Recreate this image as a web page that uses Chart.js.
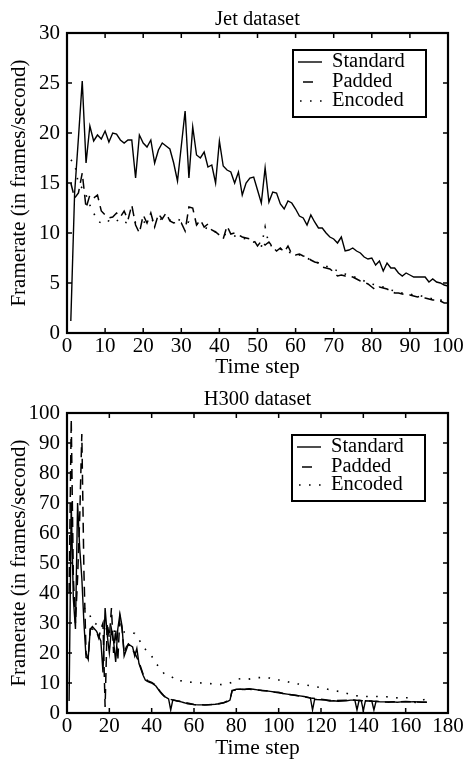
<!DOCTYPE html>
<html><head><meta charset="utf-8">
<script src="https://cdn.jsdelivr.net/npm/chart.js@4/dist/chart.umd.min.js"></script>
<style>
html,body{margin:0;padding:0;background:#fff;}
#wrap{position:relative;width:469px;height:761px;overflow:hidden;}
canvas{position:absolute;left:0;}
</style></head><body>
<div id="wrap">
<canvas id="c1" width="469" height="380" style="top:0"></canvas>
<canvas id="c2" width="469" height="381" style="top:380px"></canvas>
</div>
<script>
// ---------- Data ----------
const seriesNames = ['Standard', 'Padded', 'Encoded'];

// Jet dataset: time steps 1..100
const jetStandard = [1.2,14.0,19.5,25.2,17.0,20.7,19.2,19.8,19.4,20.2,
 19.1,20.0,19.9,19.3,19.0,19.3,19.3,15.5,19.8,19.0,
 18.6,19.3,17.0,18.3,19.0,18.7,18.4,17.0,15.2,18.7,
 22.2,15.5,20.6,17.8,17.5,18.1,16.6,16.8,15.0,19.2,
 16.7,16.3,16.1,15.0,16.1,13.8,15.0,15.5,15.6,14.3,
 13.0,16.5,13.1,14.1,14.0,12.9,12.4,13.2,13.0,12.4,
 11.7,11.5,10.8,11.8,11.1,10.5,10.5,10.0,9.6,9.4,
 9.0,9.6,8.2,8.3,8.5,8.2,8.0,7.6,7.4,7.5,
 6.8,7.2,6.2,7.0,6.5,6.5,6.0,5.7,6.0,5.8,
 5.6,5.6,5.6,5.6,5.1,5.4,5.1,5.0,4.8,4.7];
const jetPadded = [15.0,13.5,14.0,16.0,12.5,13.8,13.5,13.8,12.2,11.8,
 11.5,11.6,12.0,11.6,12.2,11.3,12.8,10.8,10.0,11.8,
 11.0,12.0,10.6,11.9,11.4,12.0,11.2,11.0,11.1,11.0,
 10.2,12.6,12.5,10.8,11.3,10.6,10.9,10.3,10.1,9.8,
 9.4,10.7,9.9,10.0,9.8,9.6,9.5,9.4,9.3,8.7,
 9.2,8.8,9.1,8.6,8.2,8.5,8.1,8.7,7.9,7.8,
 7.9,7.7,7.6,7.3,7.1,7.0,6.6,6.5,6.4,6.1,
 5.7,5.8,5.7,5.7,5.6,5.4,5.2,5.1,4.9,4.6,
 4.3,4.6,4.5,4.4,4.2,4.0,4.0,3.9,3.8,3.8,
 3.7,3.6,3.7,3.5,3.4,3.3,3.3,3.2,3.0,3.0];
const jetEncoded = [17.3,17.0,14.9,14.5,13.8,12.8,12.0,11.2,11.0,11.3,
 11.2,11.0,11.2,11.4,11.1,11.0,10.9,11.1,11.2,11.0,
 11.3,11.1,11.4,11.2,11.5,11.3,11.3,11.2,11.4,11.2,
 11.0,11.1,10.8,10.9,10.7,10.6,10.4,10.3,10.1,10.0,
 9.9,9.8,9.8,9.7,9.6,9.5,9.4,9.3,9.1,8.9,
 8.6,10.6,8.8,8.7,8.6,8.4,8.3,8.1,8.0,7.9,
 7.8,7.6,7.5,7.3,7.2,7.0,6.9,6.7,6.5,6.4,
 6.2,6.1,5.9,5.8,5.7,5.5,5.4,5.2,5.0,4.9,
 4.8,4.7,4.6,4.5,4.3,4.2,4.1,4.0,4.0,3.9,
 3.8,3.8,3.7,3.6,3.5,3.4,3.3,3.3,3.2,3.1];
const jetSteps = jetStandard.map((_, i) => i + 1);

// H300 dataset
const h300StdSteps = [1,2,3,4,5,6,7,8,9,10,11,12,13,14,15,16,17,18,19,20,
 21,22,23,24,25,26,27,28,29,30,31,32,33,34,35,36,37,38,39,40,
 41,42,43,44,45,46,47,48,49,50,51,52,53,54,55,56,57,58,59,60,
 62,64,66,68,70,72,74,76,77,78,79,80,82,84,86,88,90,92,94,96,98,100,
 102,104,106,108,110,112,114,115,116,117,118,120,122,124,126,128,130,132,134,136,137,138,139,140,141,
 143,144,145,146,148,150,152,154,156,158,160,162,164,166,168,170];
const h300StdFps = [4,70,38,28,70,55,45,30,18.5,18.2,28,28.8,28,27.2,25.6,24,13.5,35,26,20,
 28,24,17,28,33,29,19,21,23,22.5,22,19,21.5,16.5,14.5,12.5,11,10.5,10.2,10,
 9.5,9.0,8.0,7.0,6.2,5.5,5.1,4.7,1.0,4.4,4.2,4.0,3.9,3.7,3.5,3.3,3.1,3.0,2.9,2.8,
 2.7,2.7,2.7,2.8,2.9,3.1,3.4,3.9,4.3,7.4,7.7,7.9,8.0,7.8,8.1,7.9,7.7,7.5,7.4,7.2,7.0,6.9,
 6.5,6.3,6.1,5.9,5.7,5.5,5.2,5.0,1.0,4.6,4.5,4.4,4.3,4.0,4.1,3.9,4.0,4.1,4.3,4.3,1.0,4.2,4.1,0.8,4.1,
 4.0,4.0,1.0,3.9,3.7,3.7,3.6,3.7,3.6,3.7,3.8,3.7,3.8,3.7,3.6,3.6];

const h300PadSteps = [1,2,3,4,5,6,7,8,9,10,11,12,13,14,15,16,17,18,19,20,
 21,22,23,24,25,26,27,28,29,30,32,34,36,38,40,42,44,46,48,50,
 55,60,65,70,74,77,78,85,95,105,115,125,135,150,160,170];
const h300PadFps = [40,98,45,30,45,65,93,47,20,18,28,28,27.5,27,25,28,30,2,30,25,
 35,20,28,17.5,32,28,20,22,23,22,20,17,12.8,10.8,10.2,9.2,7.2,5.6,4.8,4.3,
 3.6,2.8,2.7,2.9,3.4,4.4,7.5,8.0,7.3,6.2,5.0,4.1,4.3,3.7,3.8,3.6];

const h300EncSteps = [8,10,12,15,18,21,24,27,30,32,34,36,38,40,42,44,46,48,50,52,
 55,58,62,66,70,74,78,81,85,90,95,98,102,107,112,116,120,125,130,135,
 140,146,151,157,162,165,170];
const h300EncFps = [35,34,30.5,29,28,27.5,27,27,27,26.5,24.5,22,20.5,19,16.5,15,13,12.5,11.8,10.6,
 10.8,10.3,10.1,9.9,9.6,9.4,10.2,11.4,11.2,11.8,11.8,11.0,11.0,9.8,9.5,8.9,8.5,7.6,7.0,5.9,
 5.5,5.5,5.4,5.0,5.1,3.2,4.9];

const jetXTicks = [0,10,20,30,40,50,60,70,80,90,100];
const jetYTicks = [0,5,10,15,20,25,30];
const h300XTicks = [0,20,40,60,80,100,120,140,160,180];
const h300YTicks = [0,10,20,30,40,50,60,70,80,90,100];

// ---------- Rendering ----------
const FONT = "'Liberation Serif', 'Times New Roman', 'DejaVu Serif', serif";
Chart.defaults.font.family = FONT;
Chart.defaults.color = '#000';

const styles = [
  { borderWidth: 1.4, borderDash: [], sample: [5, 29] },
  { borderWidth: 1.5, borderDash: [10, 6], sample: [10, 20] },
  { borderWidth: 1.6, borderDash: [1.6, 8.4], sample: [7, 29] }
];

function pts(xs, ys) { return xs.map((x, i) => ({ x: x, y: ys[i] })); }

const framePlugin = {
  id: 'frame',
  afterDraw(chart) {
    const { ctx, chartArea: a, scales } = chart;
    const L = 5;
    ctx.save();
    ctx.strokeStyle = '#000';
    ctx.lineWidth = 1.5;
    ctx.beginPath();
    scales.x.ticks.forEach(t => {
      const p = scales.x.getPixelForValue(t.value);
      ctx.moveTo(p, a.bottom); ctx.lineTo(p, a.bottom - L);
      ctx.moveTo(p, a.top); ctx.lineTo(p, a.top + L);
    });
    scales.y.ticks.forEach(t => {
      const p = scales.y.getPixelForValue(t.value);
      ctx.moveTo(a.left, p); ctx.lineTo(a.left + L, p);
      ctx.moveTo(a.right, p); ctx.lineTo(a.right - L, p);
    });
    ctx.stroke();
    ctx.lineWidth = 2.2;
    ctx.strokeRect(a.left, a.top, a.right - a.left, a.bottom - a.top);
    ctx.restore();
  }
};

const boxLegendPlugin = {
  id: 'boxLegend',
  afterDraw(chart, args, o) {
    const { ctx, chartArea: a } = chart;
    const x0 = a.right - o.right - o.width;
    const y0 = a.top + o.top;
    ctx.save();
    ctx.fillStyle = '#fff';
    ctx.fillRect(x0, y0, o.width, o.height);
    ctx.strokeStyle = '#000';
    ctx.lineWidth = 2;
    ctx.strokeRect(x0, y0, o.width, o.height);
    ctx.font = o.fontSize + 'px ' + FONT;
    ctx.textBaseline = 'middle';
    ctx.textAlign = 'left';
    ctx.fillStyle = '#000';
    chart.data.datasets.forEach((ds, i) => {
      const y = y0 + o.rows[i];
      const st = styles[i];
      ctx.beginPath();
      ctx.setLineDash(ds.borderDash || []);
      ctx.lineWidth = ds.borderWidth;
      ctx.moveTo(x0 + st.sample[0], y);
      ctx.lineTo(x0 + st.sample[1], y);
      ctx.stroke();
      ctx.setLineDash([]);
      ctx.fillText(ds.label, x0 + 39, y);
    });
    ctx.restore();
  }
};

function makeChart(id, title, dataArrays, xTicks, yTicks, canvasH, legendOpts) {
  const xStep = xTicks[1] - xTicks[0];
  const yStep = yTicks[1] - yTicks[0];
  return new Chart(document.getElementById(id), {
    type: 'line',
    data: {
      datasets: dataArrays.map((d, i) => ({
        label: seriesNames[i],
        data: d,
        borderColor: '#000',
        backgroundColor: '#000',
        borderWidth: styles[i].borderWidth,
        borderDash: styles[i].borderDash,
        pointRadius: 0,
        tension: 0,
        fill: false
      }))
    },
    options: {
      responsive: false,
      animation: false,
      devicePixelRatio: 1,
      layout: { padding: { left: 0, right: 21, top: 0, bottom: 0 } },
      plugins: {
        legend: { display: false },
        tooltip: { enabled: false },
        title: {
          display: true, text: title, color: '#000', fullSize: false,
          font: { family: FONT, size: 20.5, weight: 'normal', lineHeight: '20px' },
          padding: { top: 10, bottom: 3 }
        },
        boxLegend: legendOpts
      },
      scales: {
        x: {
          type: 'linear', min: xTicks[0], max: xTicks[xTicks.length - 1],
          ticks: { stepSize: xStep, autoSkip: false, maxRotation: 0, padding: 1, color: '#000',
                   font: { family: FONT, size: 21 } },
          grid: { display: false, drawTicks: false },
          border: { display: false },
          title: { display: true, text: 'Time step', color: '#000',
                   font: { family: FONT, size: 21.5, lineHeight: '20px' }, padding: { top: 0, bottom: 3 } },
          afterFit: s => { s.height = canvasH - 333; }
        },
        y: {
          type: 'linear', min: yTicks[0], max: yTicks[yTicks.length - 1],
          ticks: { stepSize: yStep, autoSkip: false, padding: 7, color: '#000',
                   font: { family: FONT, size: 21 } },
          grid: { display: false, drawTicks: false },
          border: { display: false },
          title: { display: true, text: 'Framerate (in frames/second)', color: '#000',
                   font: { family: FONT, size: 21, lineHeight: '20px' }, padding: { top: 9, bottom: 0 } },
          afterFit: s => { s.width = 67; }
        }
      }
    },
    plugins: [framePlugin, boxLegendPlugin]
  });
}

makeChart('c1', 'Jet dataset',
  [pts(jetSteps, jetStandard), pts(jetSteps, jetPadded), pts(jetSteps, jetEncoded)],
  jetXTicks, jetYTicks, 380,
  { right: 22, top: 17, width: 133, height: 67, fontSize: 20.5, rows: [12, 32, 51] });

makeChart('c2', 'H300 dataset',
  [pts(h300StdSteps, h300StdFps), pts(h300PadSteps, h300PadFps), pts(h300EncSteps, h300EncFps)],
  h300XTicks, h300YTicks, 381,
  { right: 23, top: 22, width: 133, height: 66, fontSize: 20.5, rows: [12, 32, 50] });
</script>
</body></html>
